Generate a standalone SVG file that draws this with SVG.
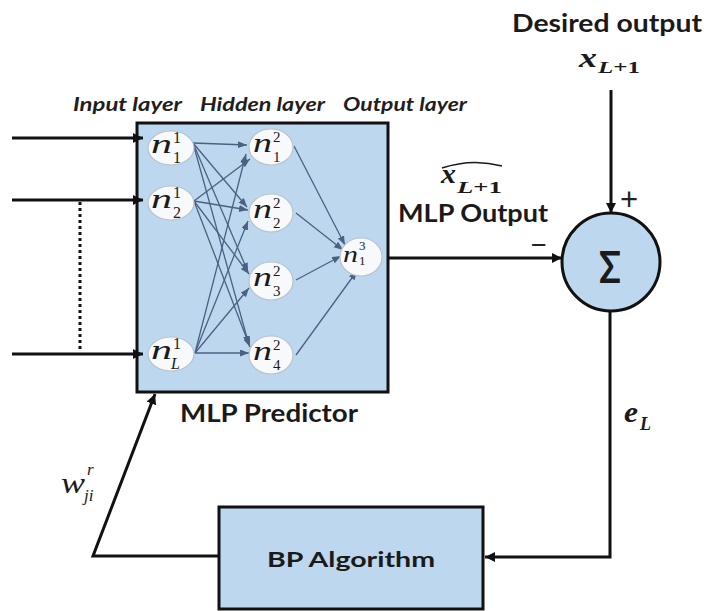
<svg xmlns="http://www.w3.org/2000/svg" width="708" height="611" viewBox="0 0 708 611">
  <style>
    .block { fill: #bdd7ee; stroke: #111; stroke-width: 3; }
    .neuron { fill: #f7f9fb; stroke: #b9c3cf; stroke-width: 1.2; }
    .wire { fill: none; stroke: #111; stroke-width: 3; }
    .syn { fill: none; stroke: #4a6282; stroke-width: 1.3; }
    .lbl { font-family: Lato, "Liberation Sans", sans-serif; font-weight: bold; fill: #1a1a1a; }
    .layer { font-family: Lato, "Liberation Sans", sans-serif; font-weight: bold; font-style: italic; fill: #1f1f1f; font-size: 18px; }
    .var { font-family: "Liberation Serif", "Noto Serif", serif; font-style: italic; fill: #1a1a1a; }
    .num { font-family: "Liberation Serif", "Noto Serif", serif; font-style: normal; fill: #1a1a1a; }
    .sign { font-family: "Liberation Sans", sans-serif; fill: #222; }
  </style>
  <defs>
    <marker id="headBig" markerUnits="userSpaceOnUse" markerWidth="12" markerHeight="12" refX="10" refY="5" orient="auto">
      <path d="M0,0 L10,5 L0,10 Z" fill="#111"/>
    </marker>
    <marker id="headSmall" markerUnits="userSpaceOnUse" markerWidth="10" markerHeight="10" refX="9" refY="3.5" orient="auto">
      <path d="M0,0 L9,3.5 L0,7 Z" fill="#4a6282"/>
    </marker>
  </defs>

  <!-- MLP predictor block -->
  <g id="mlp-predictor">
    <rect class="block" x="137" y="123" width="251" height="269"/>
    <text class="lbl" x="180" y="422" font-size="24" textLength="178" lengthAdjust="spacingAndGlyphs">MLP Predictor</text>
  </g>

  <!-- layer captions -->
  <g id="layer-captions">
    <text class="layer" x="73" y="111" textLength="109" lengthAdjust="spacingAndGlyphs">Input layer</text>
    <text class="layer" x="200" y="111" textLength="125" lengthAdjust="spacingAndGlyphs">Hidden layer</text>
    <text class="layer" x="343" y="111" textLength="124" lengthAdjust="spacingAndGlyphs">Output layer</text>
  </g>

  <!-- synapses inside the network -->
  <g id="synapses">
    <line class="syn" x1="193" y1="143" x2="247" y2="145" marker-end="url(#headSmall)"/>
    <line class="syn" x1="193" y1="143" x2="247" y2="207" marker-end="url(#headSmall)"/>
    <line class="syn" x1="193" y1="143" x2="248" y2="272" marker-end="url(#headSmall)"/>
    <line class="syn" x1="193" y1="143" x2="249" y2="345" marker-end="url(#headSmall)"/>
    <line class="syn" x1="194" y1="201" x2="250" y2="159" marker-end="url(#headSmall)"/>
    <line class="syn" x1="194" y1="201" x2="248" y2="210" marker-end="url(#headSmall)"/>
    <line class="syn" x1="194" y1="201" x2="249" y2="274" marker-end="url(#headSmall)"/>
    <line class="syn" x1="194" y1="201" x2="250" y2="347" marker-end="url(#headSmall)"/>
    <line class="syn" x1="195" y1="353" x2="246" y2="154" marker-end="url(#headSmall)"/>
    <line class="syn" x1="195" y1="353" x2="248" y2="221" marker-end="url(#headSmall)"/>
    <line class="syn" x1="195" y1="353" x2="249" y2="288" marker-end="url(#headSmall)"/>
    <line class="syn" x1="195" y1="353" x2="249" y2="353" marker-end="url(#headSmall)"/>
    <line class="syn" x1="294" y1="146" x2="345" y2="245" marker-end="url(#headSmall)"/>
    <line class="syn" x1="296" y1="213" x2="343" y2="250" marker-end="url(#headSmall)"/>
    <line class="syn" x1="296" y1="280" x2="341" y2="256" marker-end="url(#headSmall)"/>
    <line class="syn" x1="296" y1="355" x2="357" y2="271" marker-end="url(#headSmall)"/>
  </g>

  <!-- input neurons -->
  <g id="n1-1">
    <ellipse class="neuron" cx="171" cy="148" rx="23" ry="17"/>
    <text class="var" x="151" y="153" font-size="28" textLength="21" lengthAdjust="spacingAndGlyphs">n</text>
    <text class="num" x="173" y="143" font-size="16">1</text>
    <text class="num" x="173" y="163" font-size="16">1</text>
  </g>
  <g id="n2-1">
    <ellipse class="neuron" cx="171" cy="203" rx="23" ry="17"/>
    <text class="var" x="151" y="208" font-size="28" textLength="21" lengthAdjust="spacingAndGlyphs">n</text>
    <text class="num" x="173" y="198" font-size="16">1</text>
    <text class="num" x="173" y="218" font-size="16">2</text>
  </g>
  <g id="nL-1">
    <ellipse class="neuron" cx="171" cy="354" rx="23" ry="17"/>
    <text class="var" x="151" y="359" font-size="28" textLength="21" lengthAdjust="spacingAndGlyphs">n</text>
    <text class="num" x="173" y="349" font-size="16">1</text>
    <text class="var" x="171" y="369" font-size="16">L</text>
  </g>

  <!-- hidden neurons -->
  <g id="n1-2">
    <ellipse class="neuron" cx="271" cy="147" rx="22" ry="18"/>
    <text class="var" x="253" y="152" font-size="27" textLength="19" lengthAdjust="spacingAndGlyphs">n</text>
    <text class="num" x="273" y="142" font-size="15">2</text>
    <text class="num" x="273" y="162" font-size="15">1</text>
  </g>
  <g id="n2-2">
    <ellipse class="neuron" cx="271" cy="213" rx="22" ry="19"/>
    <text class="var" x="253" y="218" font-size="27" textLength="19" lengthAdjust="spacingAndGlyphs">n</text>
    <text class="num" x="273" y="208" font-size="15">2</text>
    <text class="num" x="273" y="228" font-size="15">2</text>
  </g>
  <g id="n3-2">
    <ellipse class="neuron" cx="271" cy="281" rx="22" ry="19"/>
    <text class="var" x="253" y="286" font-size="27" textLength="19" lengthAdjust="spacingAndGlyphs">n</text>
    <text class="num" x="273" y="276" font-size="15">2</text>
    <text class="num" x="273" y="296" font-size="15">3</text>
  </g>
  <g id="n4-2">
    <ellipse class="neuron" cx="271" cy="355" rx="22" ry="19"/>
    <text class="var" x="253" y="360" font-size="27" textLength="19" lengthAdjust="spacingAndGlyphs">n</text>
    <text class="num" x="273" y="350" font-size="15">2</text>
    <text class="num" x="273" y="370" font-size="15">4</text>
  </g>

  <!-- output neuron -->
  <g id="n1-3">
    <ellipse class="neuron" cx="361" cy="257" rx="21" ry="19"/>
    <text class="var" x="343" y="262" font-size="24" textLength="15" lengthAdjust="spacingAndGlyphs">n</text>
    <text class="num" x="359" y="250" font-size="13">3</text>
    <text class="num" x="359" y="265" font-size="13">1</text>
  </g>

  <!-- summing junction -->
  <g id="sum">
    <circle class="block" cx="611" cy="262" r="49"/>
    <text class="lbl" x="599" y="283" font-size="44" textLength="22" lengthAdjust="spacingAndGlyphs">Σ</text>
  </g>

  <!-- back-propagation block -->
  <g id="bp-algorithm">
    <rect class="block" x="219" y="507" width="264" height="102"/>
    <text class="lbl" x="267" y="567" font-size="21" textLength="168" lengthAdjust="spacingAndGlyphs">BP Algorithm</text>
  </g>

  <!-- signal connectors -->
  <g id="connectors">
    <line class="wire" x1="12" y1="138" x2="143" y2="138" marker-end="url(#headBig)"/>
    <line class="wire" x1="12" y1="200" x2="143" y2="200" marker-end="url(#headBig)"/>
    <line class="wire" x1="12" y1="354" x2="143" y2="354" marker-end="url(#headBig)"/>
    <line x1="80" y1="202" x2="80" y2="352" stroke="#111" stroke-width="3" stroke-dasharray="3 3"/>
    <line class="wire" x1="388" y1="258" x2="562" y2="258" marker-end="url(#headBig)"/>
    <line class="wire" x1="611" y1="90" x2="611" y2="213" marker-end="url(#headBig)"/>
    <polyline class="wire" points="610,311 610,557 485,557" marker-end="url(#headBig)"/>
    <polyline class="wire" points="219,556 93,556 155,394" marker-end="url(#headBig)"/>
  </g>

  <!-- signal labels -->
  <g id="signal-labels">
    <text class="lbl" x="512" y="32" font-size="24" textLength="190" lengthAdjust="spacingAndGlyphs">Desired output</text>
    <text class="var" x="579" y="67" font-size="27" font-weight="bold" textLength="18" lengthAdjust="spacingAndGlyphs">x</text>
    <text class="var" x="598" y="73" font-size="17" font-weight="bold" textLength="42" lengthAdjust="spacingAndGlyphs">L<tspan class="num" font-weight="bold">+1</tspan></text>
    <text class="sign" x="620" y="210" font-size="31">+</text>

    <path d="M442,168 Q472,158 502,166" fill="none" stroke="#1a1a1a" stroke-width="1.5"/>
    <text class="var" x="441" y="183" font-size="27" font-weight="bold" textLength="15" lengthAdjust="spacingAndGlyphs">x</text>
    <text class="var" x="457" y="193" font-size="17" font-weight="bold" textLength="45" lengthAdjust="spacingAndGlyphs">L<tspan class="num" font-weight="bold">+1</tspan></text>
    <text class="lbl" x="398" y="222" font-size="24" textLength="150" lengthAdjust="spacingAndGlyphs">MLP Output</text>
    <text class="sign" x="531" y="254" font-size="27">−</text>

    <text class="var" x="624" y="422" font-size="30" font-weight="bold" textLength="14" lengthAdjust="spacingAndGlyphs">e</text>
    <text class="var" x="640" y="430" font-size="18" font-weight="bold">L</text>

    <text class="var" x="61" y="493" font-size="30" textLength="24" lengthAdjust="spacingAndGlyphs">w</text>
    <text class="var" x="87" y="475" font-size="17">r</text>
    <text class="var" x="84" y="501" font-size="17">ji</text>
  </g>
</svg>
